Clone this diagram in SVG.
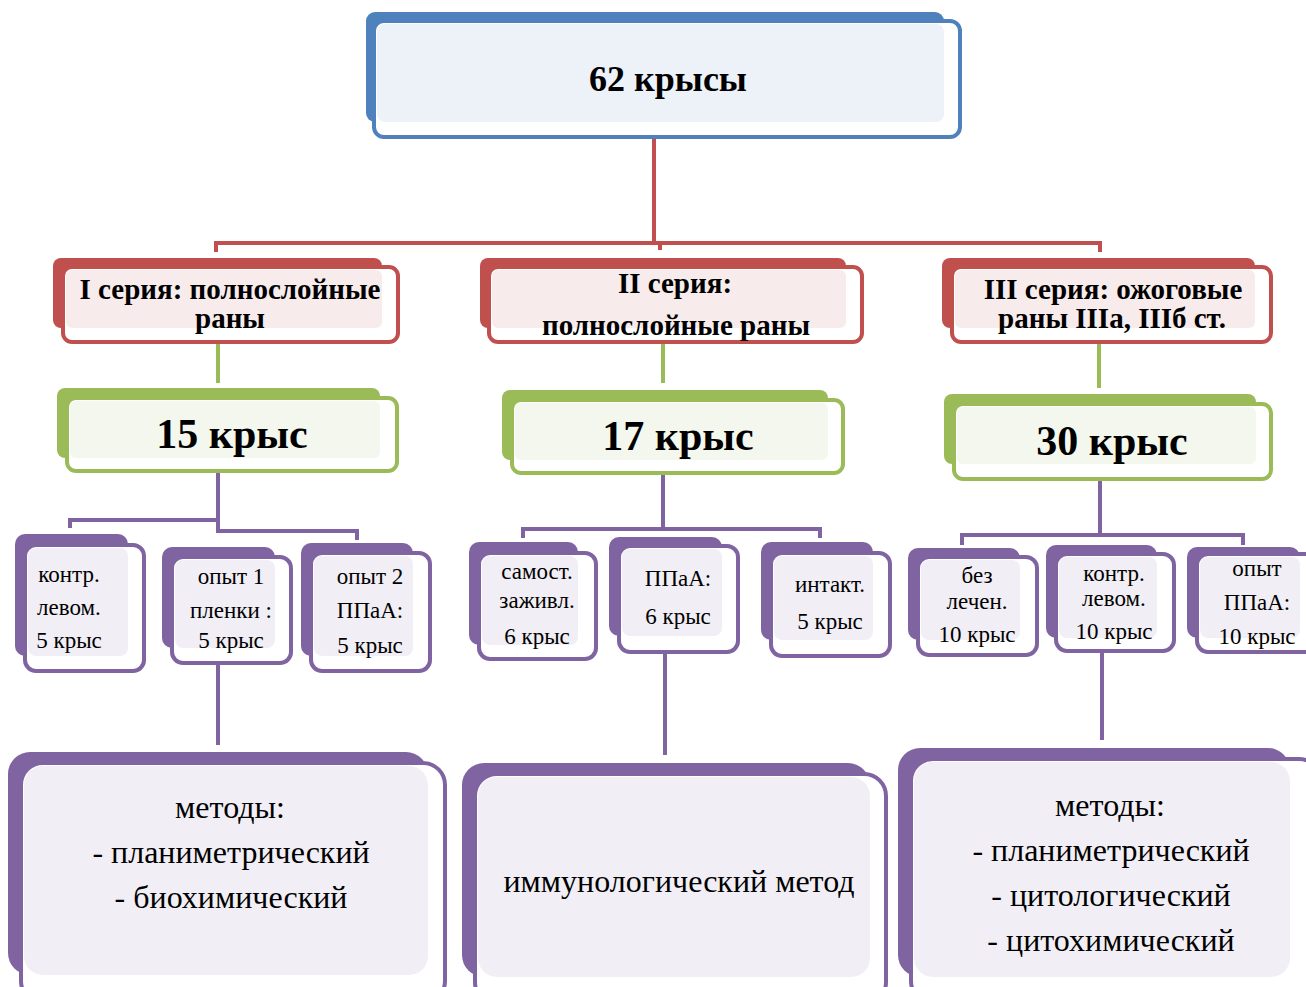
<svg xmlns="http://www.w3.org/2000/svg" width="1306" height="987" viewBox="0 0 1306 987">
<style>
.bg{fill:#fff}
.bb{fill:#4F81BD}.bf{fill:#fff;stroke:#4F81BD;stroke-width:4}.bl{fill:#EDF1F8}
.rb{fill:#C0504D}.rf{fill:#fff;stroke:#C0504D;stroke-width:4}.rl{fill:#F7ECEB}
.gb{fill:#9BBB59}.gf{fill:#fff;stroke:#9BBB59;stroke-width:4}.gl{fill:#F3F7ED}
.pb{fill:#8064A2}.pf{fill:#fff;stroke:#8064A2;stroke-width:4}.pl{fill:#F1EFF5}
.cr{fill:none;stroke:#C0504D;stroke-width:4}
.cg{fill:none;stroke:#9BBB59;stroke-width:4}
.cp{fill:none;stroke:#8064A2;stroke-width:4}
text{font-family:"Liberation Serif","Times New Roman",serif;fill:#000;text-anchor:middle}
.t1{font-size:36px;font-weight:bold}
.t2{font-size:29px;font-weight:bold}
.t3{font-size:42px;font-weight:bold}
.t4{font-size:23px}
.t5{font-size:32px}
</style>
<rect class="bg" x="0" y="0" width="1306" height="987"/>

<g id="connectors">
  <path class="cr" d="M654,137 V243 M216,252 V243 H1100 V252 M660,243 V250"/>
  <path class="cg" d="M218,343 V383 M663,343 V383 M1099,343 V388"/>
  <path class="cp" d="M218,472 V520 H70 V528 M218,520 V531 H357 V540"/>
  <path class="cp" d="M663,474 V529 M523,538 V529 H820 V538"/>
  <path class="cp" d="M1100,480 V535 M962,545 V535 H1243 V545"/>
  <path class="cp" d="M218,664 V745 M665,653 V755 M1102,652 V740"/>
</g>

<g id="n-top">
  <rect class="bb" x="366" y="12" width="578" height="110" rx="9"/>
  <rect class="bf" x="374" y="21" width="586" height="116" rx="10"/>
  <rect class="bl" x="377" y="24" width="567" height="98" rx="8"/>
  <text class="t1" x="668" y="91">62 крысы</text>
</g>

<g id="n-s1">
  <rect class="rb" x="53" y="258" width="329" height="70" rx="8"/>
  <rect class="rf" x="63" y="267" width="335" height="75" rx="9"/>
  <rect class="rl" x="66" y="270" width="316" height="58" rx="6"/>
  <text class="t2" x="230" y="299">I серия:  полнослойные</text>
  <text class="t2" x="230" y="328">раны</text>
</g>
<g id="n-s2">
  <rect class="rb" x="480" y="258" width="366" height="70" rx="8"/>
  <rect class="rf" x="489" y="267" width="373" height="75" rx="9"/>
  <rect class="rl" x="492" y="270" width="354" height="58" rx="6"/>
  <text class="t2" x="675" y="293">II серия:</text>
  <text class="t2" x="676" y="335">полнослойные раны</text>
</g>
<g id="n-s3">
  <rect class="rb" x="942" y="258" width="313" height="70" rx="8"/>
  <rect class="rf" x="952" y="267" width="319" height="75" rx="9"/>
  <rect class="rl" x="955" y="270" width="300" height="58" rx="6"/>
  <text class="t2" x="1113" y="299">III серия:  ожоговые</text>
  <text class="t2" x="1112" y="328">раны IIIа, IIIб ст.</text>
</g>

<g id="n-g1">
  <rect class="gb" x="57" y="388" width="323" height="70" rx="8"/>
  <rect class="gf" x="67" y="398" width="330" height="73" rx="9"/>
  <rect class="gl" x="70" y="401" width="310" height="57" rx="6"/>
  <text class="t3" x="232" y="448">15 крыс</text>
</g>
<g id="n-g2">
  <rect class="gb" x="502" y="390" width="326" height="70" rx="8"/>
  <rect class="gf" x="512" y="400" width="331" height="73" rx="9"/>
  <rect class="gl" x="515" y="403" width="313" height="57" rx="6"/>
  <text class="t3" x="678" y="450">17 крыс</text>
</g>
<g id="n-g3">
  <rect class="gb" x="944" y="394" width="312" height="70" rx="8"/>
  <rect class="gf" x="954" y="404" width="317" height="75" rx="9"/>
  <rect class="gl" x="957" y="407" width="299" height="57" rx="6"/>
  <text class="t3" x="1112" y="455">30 крыс</text>
</g>

<g id="n-a1">
  <rect class="pb" x="15" y="534" width="113" height="122" rx="10"/>
  <rect class="pf" x="25" y="545" width="119" height="126" rx="11"/>
  <rect class="pl" x="28" y="548" width="100" height="108" rx="8"/>
  <text class="t4" x="69" y="582">контр.</text>
  <text class="t4" x="69" y="615">левом.</text>
  <text class="t4" x="69" y="648">5 крыс</text>
</g>
<g id="n-a2">
  <rect class="pb" x="162" y="547" width="113" height="101" rx="10"/>
  <rect class="pf" x="172" y="557" width="119" height="106" rx="11"/>
  <rect class="pl" x="175" y="560" width="100" height="88" rx="8"/>
  <text class="t4" x="231" y="584">опыт 1</text>
  <text class="t4" x="231" y="618">пленки :</text>
  <text class="t4" x="231" y="648">5 крыс</text>
</g>
<g id="n-a3">
  <rect class="pb" x="301" y="543" width="112" height="113" rx="10"/>
  <rect class="pf" x="311" y="553" width="119" height="118" rx="11"/>
  <rect class="pl" x="314" y="556" width="99" height="100" rx="8"/>
  <text class="t4" x="370" y="584">опыт 2</text>
  <text class="t4" x="370" y="618">ППаА:</text>
  <text class="t4" x="370" y="653">5 крыс</text>
</g>

<g id="n-b1">
  <rect class="pb" x="469" y="542" width="109" height="103" rx="10"/>
  <rect class="pf" x="479" y="553" width="117" height="106" rx="11"/>
  <rect class="pl" x="482" y="556" width="96" height="89" rx="8"/>
  <text class="t4" x="537" y="579">самост.</text>
  <text class="t4" x="537" y="608">заживл.</text>
  <text class="t4" x="537" y="644">6 крыс</text>
</g>
<g id="n-b2">
  <rect class="pb" x="609" y="537" width="113" height="99" rx="10"/>
  <rect class="pf" x="619" y="546" width="119" height="106" rx="11"/>
  <rect class="pl" x="622" y="549" width="100" height="87" rx="8"/>
  <text class="t4" x="678" y="586">ППаА:</text>
  <text class="t4" x="678" y="624">6 крыс</text>
</g>
<g id="n-b3">
  <rect class="pb" x="761" y="542" width="112" height="98" rx="10"/>
  <rect class="pf" x="771" y="553" width="119" height="103" rx="11"/>
  <rect class="pl" x="774" y="556" width="99" height="84" rx="8"/>
  <text class="t4" x="830" y="592">интакт.</text>
  <text class="t4" x="830" y="629">5 крыс</text>
</g>

<g id="n-c1">
  <rect class="pb" x="908" y="548" width="112" height="92" rx="10"/>
  <rect class="pf" x="918" y="557" width="119" height="98" rx="11"/>
  <rect class="pl" x="921" y="560" width="99" height="80" rx="8"/>
  <text class="t4" x="977" y="583">без</text>
  <text class="t4" x="977" y="609">лечен.</text>
  <text class="t4" x="977" y="642">10 крыс</text>
</g>
<g id="n-c2">
  <rect class="pb" x="1046" y="545" width="111" height="93" rx="10"/>
  <rect class="pf" x="1056" y="554" width="118" height="97" rx="11"/>
  <rect class="pl" x="1059" y="557" width="98" height="81" rx="8"/>
  <text class="t4" x="1114" y="581">контр.</text>
  <text class="t4" x="1114" y="606">левом.</text>
  <text class="t4" x="1114" y="639">10 крыс</text>
</g>
<g id="n-c3">
  <rect class="pb" x="1187" y="547" width="113" height="91" rx="10"/>
  <rect class="pf" x="1197" y="554" width="119" height="98" rx="11"/>
  <rect class="pl" x="1200" y="557" width="100" height="81" rx="8"/>
  <text class="t4" x="1257" y="576">опыт</text>
  <text class="t4" x="1257" y="610">ППаА:</text>
  <text class="t4" x="1257" y="644">10 крыс</text>
</g>

<g id="n-m1">
  <rect class="pb" x="8" y="752" width="420" height="223" rx="22"/>
  <rect class="pf" x="21" y="763" width="424" height="240" rx="22"/>
  <rect class="pl" x="24" y="766" width="404" height="209" rx="19"/>
  <text class="t5" x="230" y="818">методы:</text>
  <text class="t5" x="231" y="863">- планиметрический</text>
  <text class="t5" x="231" y="908">- биохимический</text>
</g>
<g id="n-m2">
  <rect class="pb" x="462" y="763" width="408" height="214" rx="22"/>
  <rect class="pf" x="475" y="774" width="411" height="230" rx="22"/>
  <rect class="pl" x="478" y="777" width="392" height="200" rx="19"/>
  <text class="t5" x="679" y="892">иммунологический метод</text>
</g>
<g id="n-m3">
  <rect class="pb" x="898" y="748" width="392" height="229" rx="22"/>
  <rect class="pf" x="911" y="759" width="410" height="244" rx="22"/>
  <rect class="pl" x="914" y="762" width="376" height="215" rx="19"/>
  <text class="t5" x="1110" y="816">методы:</text>
  <text class="t5" x="1111" y="861">- планиметрический</text>
  <text class="t5" x="1111" y="906">- цитологический</text>
  <text class="t5" x="1111" y="951">- цитохимический</text>
</g>
</svg>
